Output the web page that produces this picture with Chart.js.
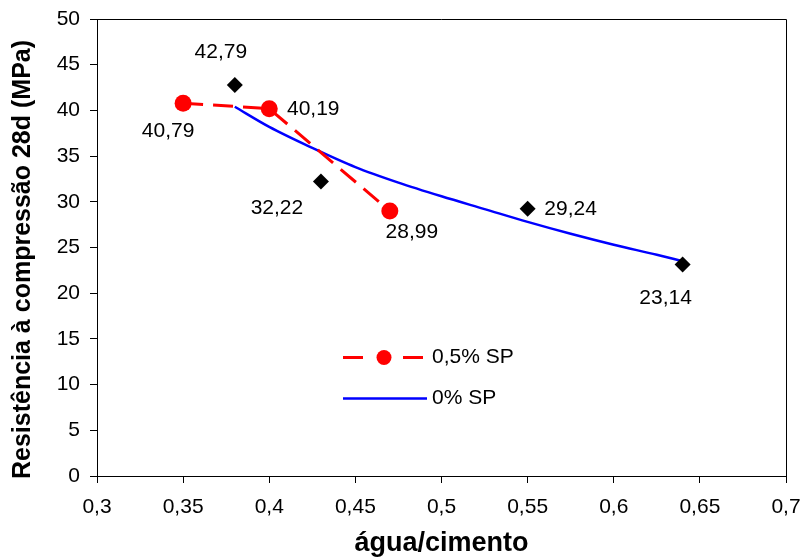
<!DOCTYPE html>
<html>
<head>
<meta charset="utf-8">
<script src="https://cdn.jsdelivr.net/npm/chart.js@4/dist/chart.umd.min.js"></script>
<style>
  html, body { margin: 0; padding: 0; background: #fff; }
  #wrap { width: 803px; height: 557px; }
</style>
</head>
<body>
<div id="wrap"><canvas id="chart"></canvas></div>
<script>
// data
const spX = [0.35, 0.40, 0.47];
const spY = [40.79, 40.19, 28.99];
const ptX = [0.38, 0.43, 0.55, 0.64];
const ptY = [42.79, 32.22, 29.24, 23.14];
const fitX = [0.38, 0.40, 0.425, 0.45, 0.475, 0.50, 0.525, 0.55, 0.575, 0.60, 0.625, 0.64];
const fitY = [40.4, 38.2, 35.9, 33.8, 32.1, 30.6, 29.2, 27.8, 26.5, 25.3, 24.2, 23.5];
const seriesNames = ["0,5% SP", "0% SP"];
const xTitle = "água/cimento";
const yTitle = "Resistência à compressão 28d (MPa)";

// label offsets (pixels) from each marked point
const spLabelOffset = [[-15, 28], [44, 1], [22, 21]];
const ptLabelOffset = [[-14, -33], [-44, 27], [43, 0], [-17, 34]];

const FONT = "'Liberation Sans', Arial, sans-serif";
const fmt = v => String(Number(v.toFixed(2))).replace(".", ",");
const toXY = (xs, ys) => xs.map((x, i) => ({ x: x, y: ys[i] }));

const labelsPlugin = {
    id: "pointLabels",
    afterDatasetsDraw(chart) {
        const ctx = chart.ctx;
        ctx.save();
        ctx.font = "21px " + FONT;
        ctx.fillStyle = "#000";
        ctx.textAlign = "center";
        ctx.textBaseline = "middle";
        const draw = (dsIndex, values, offsets) => {
            chart.getDatasetMeta(dsIndex).data.forEach((el, i) => {
                ctx.fillText(fmt(values[i]), el.x + offsets[i][0], el.y + offsets[i][1]);
            });
        };
        draw(0, ptY, ptLabelOffset);
        draw(1, spY, spLabelOffset);
        ctx.restore();
    }
};

// top/right frame + rotated y title
const framePlugin = {
    id: "frame",
    afterDraw(chart) {
        const { ctx, chartArea: a } = chart;
        ctx.save();
        ctx.strokeStyle = "#000";
        ctx.lineWidth = 1;
        ctx.beginPath();
        ctx.moveTo(a.left, a.top + 0.5);
        ctx.lineTo(a.right + 0.5, a.top + 0.5);
        ctx.lineTo(a.right + 0.5, a.bottom);
        ctx.stroke();

        ctx.translate(23.5, (a.top + a.bottom) / 2 + 12);
        ctx.rotate(-Math.PI / 2);
        ctx.font = "bold 25px " + FONT;
        ctx.fillStyle = "#000";
        ctx.textAlign = "center";
        ctx.textBaseline = "middle";
        ctx.fillText(yTitle, 0, 0);
        ctx.restore();
    }
};

const legendPlugin = {
    id: "insideLegend",
    afterDraw(chart) {
        const ctx = chart.ctx;
        const x0 = 343, x1 = 423, y0 = 357.5, y1 = 398.5;
        ctx.save();
        ctx.strokeStyle = "#FF0000";
        ctx.lineWidth = 3;
        ctx.beginPath();
        ctx.moveTo(x0, y0); ctx.lineTo(x0 + 20, y0);
        ctx.moveTo(x1 - 20, y0); ctx.lineTo(x1, y0);
        ctx.stroke();
        ctx.fillStyle = "#FF0000";
        ctx.beginPath();
        ctx.arc((x0 + x1) / 2 + 1, y0, 7.5, 0, Math.PI * 2);
        ctx.fill();
        ctx.strokeStyle = "#0000FF";
        ctx.lineWidth = 2.5;
        ctx.beginPath();
        ctx.moveTo(x0, y1); ctx.lineTo(x1 + 4, y1);
        ctx.stroke();
        ctx.font = "21px " + FONT;
        ctx.fillStyle = "#000";
        ctx.textBaseline = "middle";
        ctx.fillText(seriesNames[0], 432, y0);
        ctx.fillText(seriesNames[1], 432, y1);
        ctx.restore();
    }
};

new Chart(document.getElementById("chart"), {
    type: "scatter",
    data: {
        datasets: [{
            label: "pontos",
            data: toXY(ptX, ptY),
            pointStyle: "rectRot",
            pointRadius: 8,
            backgroundColor: "#000",
            borderColor: "#000",
            pointBorderWidth: 0,
            showLine: false
        }, {
            label: seriesNames[0],
            data: toXY(spX, spY),
            showLine: true,
            borderColor: "#FF0000",
            backgroundColor: "#FF0000",
            borderWidth: 3,
            borderDash: [20, 10],
            pointRadius: 8.5,
            pointBorderWidth: 0
        }, {
            label: seriesNames[1],
            data: toXY(fitX, fitY),
            showLine: true,
            borderColor: "#0000FF",
            borderWidth: 2.5,
            pointRadius: 0,
            cubicInterpolationMode: "monotone"
        }]
    },
    options: {
        responsive: true,
        maintainAspectRatio: false,
        animation: false,
        layout: { padding: { left: 0, right: 17, top: 19, bottom: 0 } },
        scales: {
            x: {
                type: "linear",
                min: 0.3,
                max: 0.7,
                afterFit: s => { s.height = 81; s.paddingLeft = 0; s.paddingRight = 0; },
                ticks: {
                    stepSize: 0.05,
                    color: "#000",
                    font: { family: FONT, size: 21 },
                    padding: 12,
                    callback: v => fmt(v)
                },
                grid: { drawOnChartArea: false, drawTicks: true, tickLength: 7, color: "#000" },
                border: { display: true, color: "#000", width: 1 },
                title: {
                    display: true,
                    text: xTitle,
                    color: "#000",
                    font: { family: FONT, size: 27, weight: "bold", lineHeight: 1 },
                    padding: { top: 0, bottom: 0 }
                }
            },
            y: {
                min: 0,
                max: 50,
                afterFit: s => { s.width = 97; s.paddingTop = 0; s.paddingBottom = 0; },
                ticks: {
                    stepSize: 5,
                    color: "#000",
                    font: { family: FONT, size: 21 },
                    padding: 10
                },
                grid: { drawOnChartArea: false, drawTicks: true, tickLength: 7, color: "#000" },
                border: { display: true, color: "#000", width: 1 },
                title: { display: false }
            }
        },
        plugins: {
            legend: { display: false },
            tooltip: { enabled: false }
        }
    },
    plugins: [labelsPlugin, framePlugin, legendPlugin]
});
</script>
</body>
</html>
